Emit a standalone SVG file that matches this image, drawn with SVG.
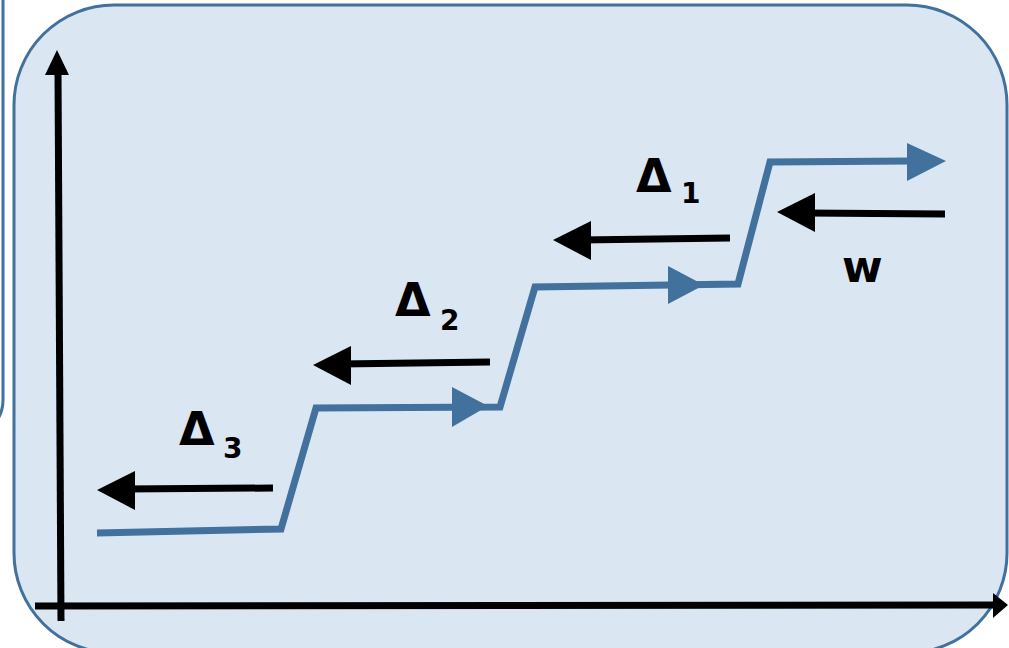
<svg xmlns="http://www.w3.org/2000/svg" width="1009" height="648" viewBox="0 0 1009 648">
  <defs>
    <style>
      .panel { fill: #DAE7F3; stroke: #41719C; stroke-width: 3; }
      .edge { fill: none; stroke: #41719C; stroke-width: 3; }
      .axis { fill: none; stroke: #000; stroke-width: 7; }
      .force { fill: none; stroke: #000; stroke-width: 7; }
      .stair { fill: none; stroke: #41719C; stroke-width: 7; stroke-linejoin: miter; }
      .head-k { fill: #000; }
      .head-b { fill: #41719C; }
      .lbl { font-family: "DejaVu Sans", "Liberation Sans", sans-serif; font-weight: bold; fill: #000; }
      .big { font-size: 46px; }
      .sub { font-size: 28px; }
    </style>
  </defs>

  <rect width="1009" height="648" fill="#FFFFFF"/>

  <!-- edge of a panel lying behind -->
  <path class="edge" d="M3,0 V400 Q3,414 -6,424"/>

  <!-- background panel -->
  <g id="panel">
    <rect class="panel" x="14" y="5" width="993" height="648" rx="100" ry="100"/>
  </g>

  <!-- axes -->
  <g id="axes">
    <line class="axis" x1="61" y1="621" x2="58" y2="72"/>
    <polygon class="head-k" points="57,50 45,75 69,75"/>
    <line class="axis" x1="35" y1="606" x2="995" y2="605"/>
    <polygon class="head-k" points="1008,605 993,593 993,618"/>
  </g>

  <g id="connectors">
    <!-- staircase path -->
    <g id="staircase">
      <polyline class="stair" points="97,533 281,529 316,408 500,407 535,287 738,284 770,162 912,161"/>
      <polygon class="head-b" points="452,387 452,427 488,406"/>
      <polygon class="head-b" points="668,266 668,304 704,285"/>
      <polygon class="head-b" points="907,143 907,181 946,161"/>
    </g>

    <!-- leftward arrows -->
    <g id="arrow-w">
      <line class="force" x1="945" y1="214" x2="805" y2="213"/>
      <polygon class="head-k" points="777,212 815,193 815,232"/>
    </g>
    <g id="arrow-d1">
      <line class="force" x1="730" y1="238" x2="580" y2="240"/>
      <polygon class="head-k" points="553,240 591,221 591,260"/>
    </g>
    <g id="arrow-d2">
      <line class="force" x1="490" y1="362" x2="340" y2="364"/>
      <polygon class="head-k" points="313,365 351,346 351,385"/>
    </g>
    <g id="arrow-d3">
      <line class="force" x1="273" y1="488" x2="124" y2="489"/>
      <polygon class="head-k" points="97,490 135,471 135,510"/>
    </g>
  </g>

  <!-- labels -->
  <g id="label-d1">
    <text class="lbl big" x="636" y="192">Δ</text>
    <text class="lbl sub" x="681" y="203">1</text>
  </g>
  <g id="label-d2">
    <text class="lbl big" x="395" y="316">Δ</text>
    <text class="lbl sub" x="440" y="330">2</text>
  </g>
  <g id="label-d3">
    <text class="lbl big" x="179" y="445">Δ</text>
    <text class="lbl sub" x="223" y="458">3</text>
  </g>
  <g id="label-w">
    <text class="lbl" style="font-size:44px" x="842" y="282">w</text>
  </g>
</svg>
